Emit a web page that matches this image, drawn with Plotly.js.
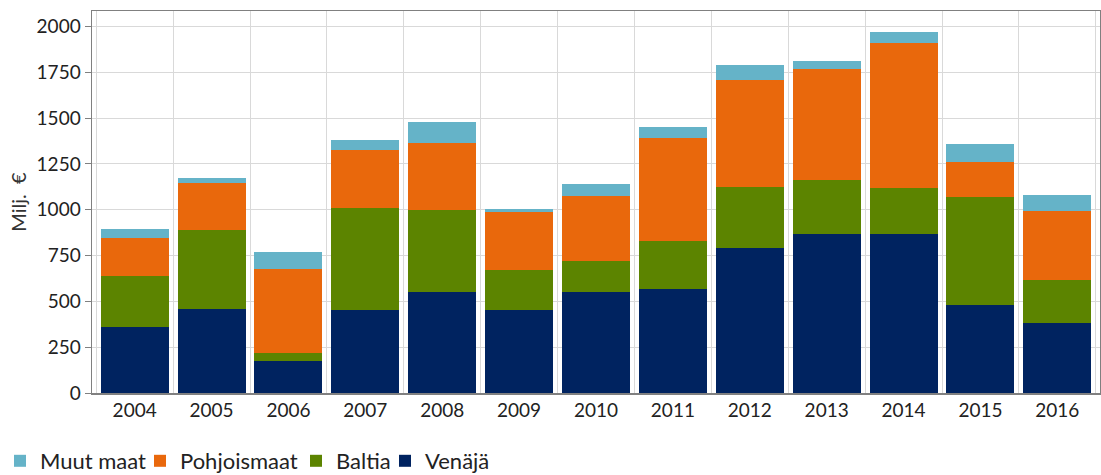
<!DOCTYPE html>
<html>
<head>
<meta charset="utf-8">
<script src="https://cdn.plot.ly/plotly-3.0.1.min.js"></script>
<style>html,body{margin:0;padding:0;background:#fff;}#chart{width:1101px;height:475px;}</style>
</head>
<body>
<div id="chart"></div>
<script>
const years = ['2004','2005','2006','2007','2008','2009','2010','2011','2012','2013','2014','2015','2016'];
const venaja = [360, 458, 173, 453, 549, 453, 553, 565, 793, 869, 865, 478, 382];
const baltia = [280, 433, 43, 558, 451, 216, 165, 266, 332, 291, 255, 591, 233];
const pohjoismaat = [204, 256, 460, 314, 365, 316, 355, 562, 582, 609, 789, 193, 378];
const muutMaat = [52, 24, 91, 55, 111, 20, 67, 60, 80, 42, 62, 98, 87];
const yTicks = [0, 250, 500, 750, 1000, 1250, 1500, 1750, 2000];

const FONT = 'Lato, "Open Sans", sans-serif';
function tr(name, vals, color, legendId) {
  return {type: 'bar', name: name, x: years, y: vals, legend: legendId,
    marker: {color: color, line: {width: 0}}, hoverinfo: 'x+y+name'};
}
const data = [
  tr('Venäjä', venaja, '#002360', 'legend4'),
  tr('Baltia', baltia, '#5c8400', 'legend3'),
  tr('Pohjoismaat', pohjoismaat, '#e9680c', 'legend2'),
  tr('Muut maat', muutMaat, '#65b3c8', 'legend')
];
function leg(px) {
  return {orientation: 'h', xref: 'container', yref: 'container',
    x: px / 1101, xanchor: 'left', y: 14 / 475, yanchor: 'middle',
    bgcolor: 'rgba(0,0,0,0)',
    font: {size: 22, family: FONT, color: '#222'}, itemwidth: 30};
}
const layout = {
  width: 1101, height: 475,
  margin: {l: 92, r: 1, t: 11, b: 82},
  barmode: 'stack', bargap: 0.115,
  paper_bgcolor: '#fff', plot_bgcolor: '#fff',
  font: {family: FONT, color: '#222', size: 19},
  xaxis: {type: 'category', range: [-0.555, 12.555], tickson: 'boundaries',
    showgrid: true, gridcolor: '#d9d9d9', gridwidth: 1,
    ticks: '', showline: true, linecolor: '#808080', linewidth: 1.5, mirror: true,
    tickfont: {size: 19, family: FONT, color: '#222'}},
  yaxis: {range: [0, 2084], tickvals: yTicks, ticktext: yTicks.map(String),
    showgrid: true, gridcolor: '#d9d9d9', gridwidth: 1, zeroline: false,
    ticks: 'outside', ticklen: 6, tickcolor: '#808080',
    showline: true, linecolor: '#808080', linewidth: 1.5, mirror: true,
    tickfont: {size: 19, family: FONT, color: '#222'},
    title: {text: 'Milj.  €', font: {size: 20, family: FONT, color: '#333'}, standoff: 4}},
  legend: leg(0),
  legend2: leg(140),
  legend3: leg(296),
  legend4: leg(385),
  showlegend: true
};
Plotly.newPlot('chart', data, layout, {displayModeBar: false, staticPlot: true});
</script>
</body>
</html>
